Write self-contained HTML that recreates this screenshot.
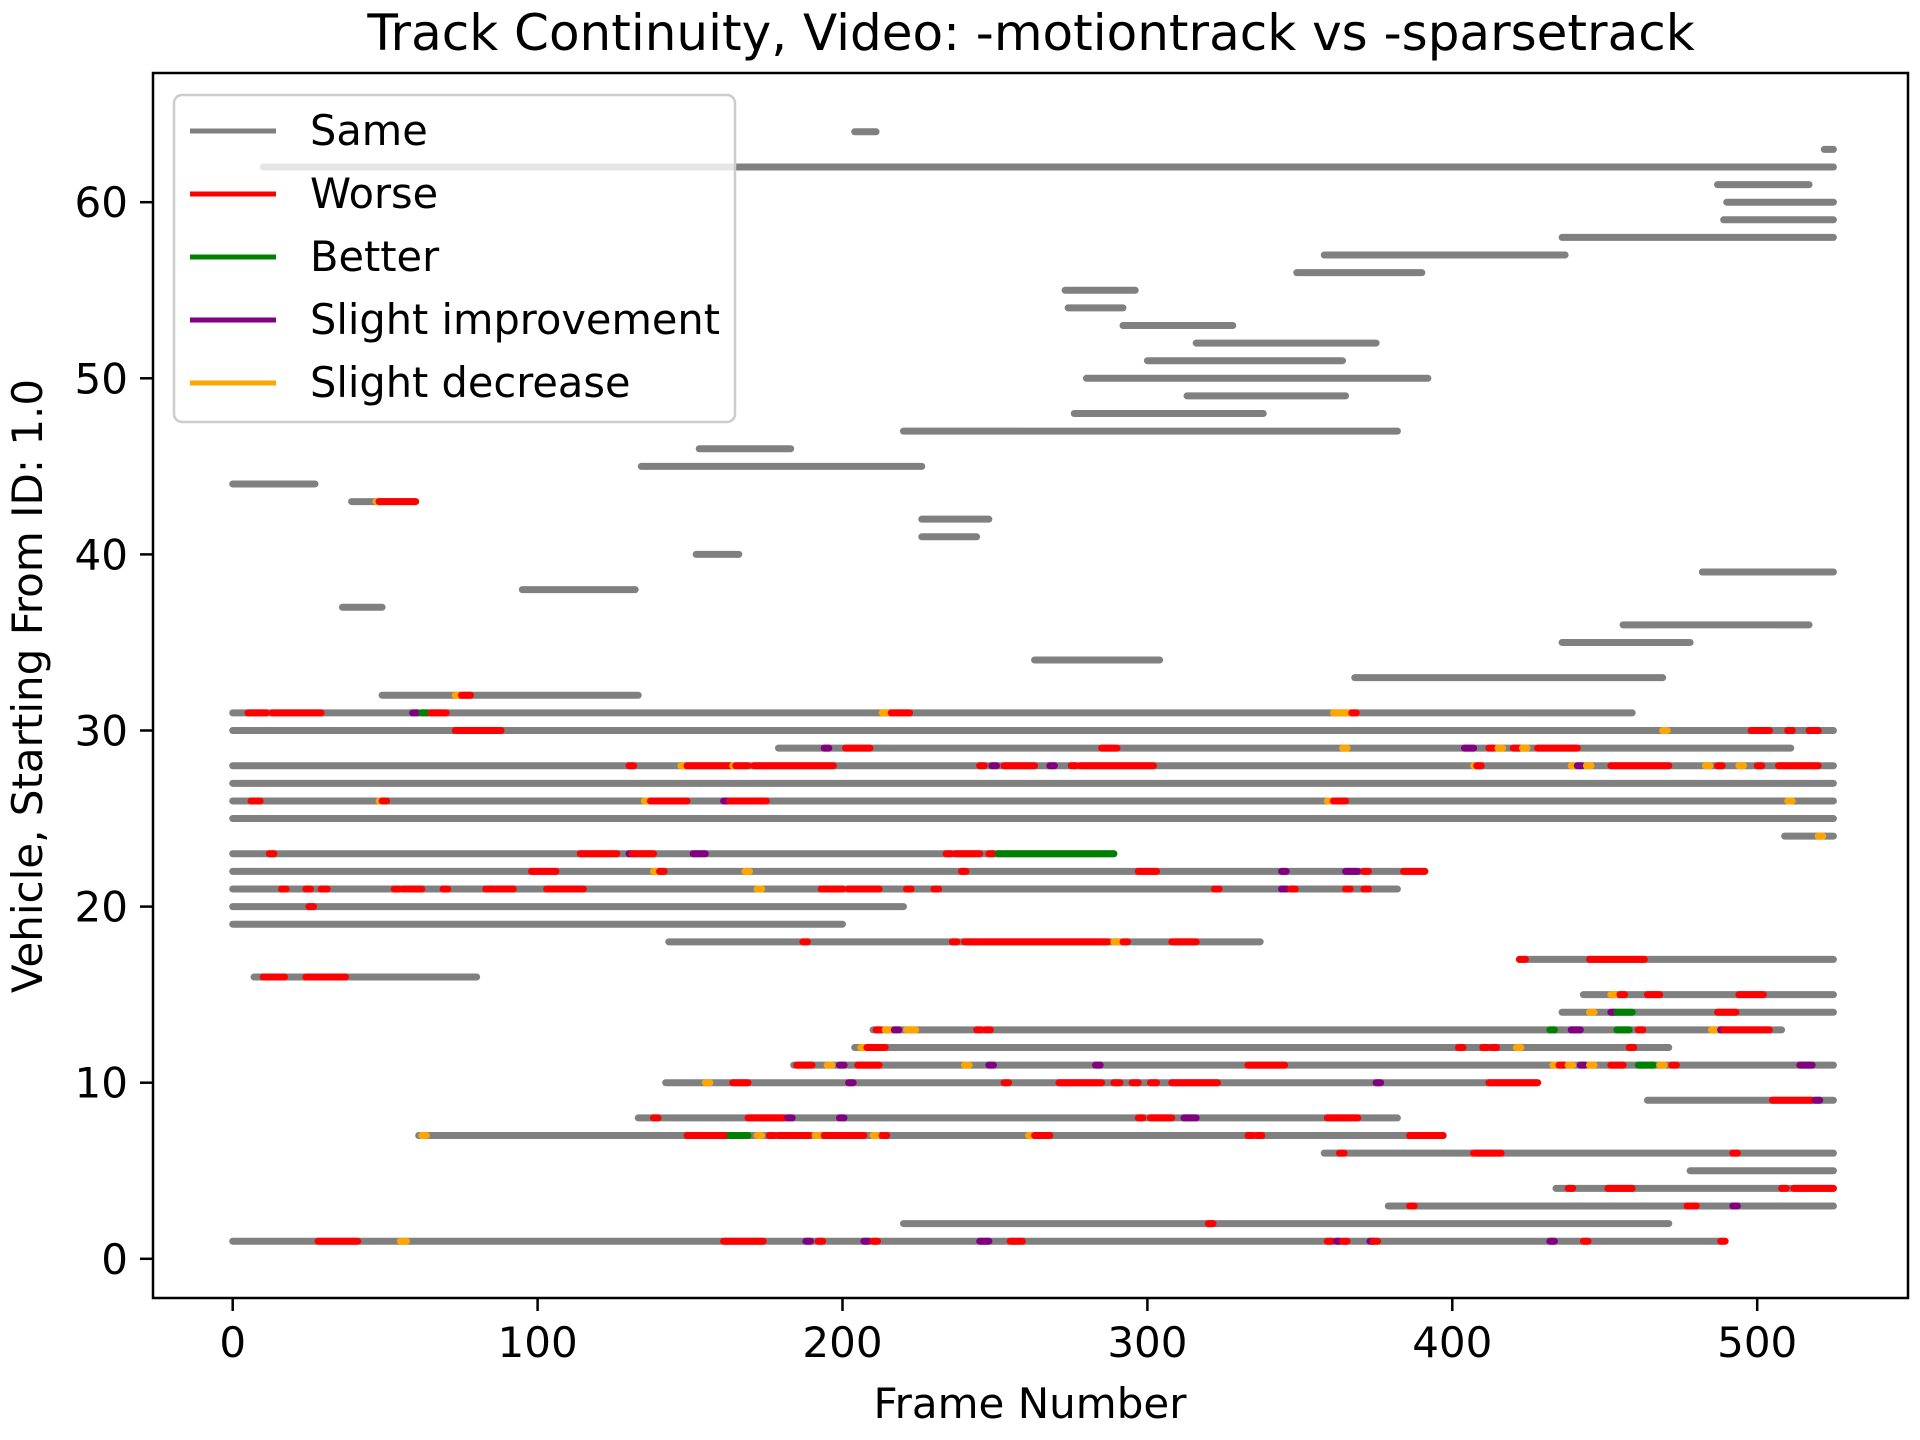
<!DOCTYPE html>
<html><head><meta charset="utf-8"><style>
body{margin:0;background:#fff}
svg{display:block;font-family:"DejaVu Sans","Liberation Sans",sans-serif}
</style></head><body>
<svg id="chart" width="1920" height="1440" viewBox="0 0 1920 1440" xmlns="http://www.w3.org/2000/svg">
<rect width="1920" height="1440" fill="#fff"/>
<text x="1031" y="50" font-size="50" text-anchor="middle">Track Continuity, Video: -motiontrack vs -sparsetrack</text>
<g id="marks"></g>
<rect x="153" y="73" width="1755" height="1225" fill="none" stroke="#000" stroke-width="2.5"/>
<g id="axes"></g>
<text x="1030" y="1418" font-size="42" text-anchor="middle">Frame Number</text>
<text transform="translate(42,686) rotate(-90)" font-size="42" text-anchor="middle">Vehicle, Starting From ID: 1.0</text>
<g>
<rect x="174" y="95" width="561" height="327" rx="8" fill="#fff" fill-opacity="0.8" stroke="#ccc" stroke-width="2.5"/>
<g id="legend-entries"></g>
</g>
</svg>
<script>
const COLORS = {s:'#808080', r:'#ff0000', g:'#008000', p:'#800080', o:'#ffa500'};
const legendLabels = ['Same','Worse','Better','Slight improvement','Slight decrease'];
const legendKeys = ['s','r','g','p','o'];
const xTicks = [0,100,200,300,400,500];
const yTicks = [0,10,20,30,40,50,60];
// tracks: [vehicleId, startFrame, endFrame]
const tracks = [
[63,522,525],[64,204,211],[62,10,525],[61,487,517],[60,490,525],[59,489,525],[58,436,525],[57,358,437],
[56,349,390],[55,273,296],[54,274,292],[53,292,328],[52,316,375],[51,300,364],[50,280,392],[49,313,365],
[48,276,338],[47,220,382],[46,153,183],[45,134,226],[44,0,27],[43,39,60],[42,226,248],[41,226,244],
[40,152,166],[39,482,525],[38,95,132],[37,36,49],[36,456,517],[35,436,478],[34,263,304],[33,368,469],
[32,49,133],[31,0,459],[30,0,525],[29,179,511],[28,0,525],[27,0,525],[26,0,525],[25,0,525],[24,509,525],
[23,0,289],[22,0,391],[21,0,382],[20,0,220],[19,0,200],[18,143,337],[17,422,525],[16,7,80],[15,443,525],
[14,436,525],[13,210,508],[12,204,471],[11,184,525],[10,142,428],[9,464,525],[8,133,382],[7,61,397],
[6,358,525],[5,478,525],[4,434,525],[3,379,525],[2,220,471],[1,0,489]
];
// changes: [vehicleId, startFrame, endFrame, type]
const changes = [
[43,47,48.5,'o'],[43,48,60,'r'],[32,73,74.5,'o'],[32,75,78,'r'],
[31,5,11,'r'],[31,13,29,'r'],[31,59,60.5,'p'],[31,62,64,'g'],[31,65,70,'r'],[31,213,214.5,'o'],[31,216,222,'r'],[31,361,367,'o'],[31,367,368.5,'r'],
[30,73,88,'r'],[30,469,470.5,'o'],[30,498,504,'r'],[30,510,511.5,'r'],[30,517,520,'r'],
[29,194,195.5,'p'],[29,201,209,'r'],[29,285,290,'r'],[29,364,365.5,'o'],[29,404,407,'p'],[29,412,413.5,'r'],[29,415,416.5,'o'],[29,420,422,'r'],[29,423,424.5,'o'],[29,428,441,'r'],
[28,130,131.5,'r'],[28,147,148.5,'o'],[28,149,163,'r'],[28,164,165,'o'],[28,165,169,'r'],[28,171,197,'r'],[28,245,246.5,'r'],[28,249,250.5,'p'],[28,253,263,'r'],[28,268,269.5,'p'],[28,275,276.5,'r'],[28,278,302,'r'],[28,407,408,'o'],[28,408,409.5,'r'],[28,439,440.5,'o'],[28,441,442.5,'p'],[28,444,445.5,'o'],[28,452,471,'r'],[28,483,484.5,'o'],[28,487,488.5,'r'],[28,494,495.5,'o'],[28,500,501.5,'r'],[28,507,520,'r'],
[26,6,9,'r'],[26,48,49,'o'],[26,49,50.5,'r'],[26,135,136.5,'o'],[26,137,149,'r'],[26,161,162.5,'p'],[26,163,175,'r'],[26,359,360.5,'o'],[26,361,365,'r'],[26,510,511.5,'o'],
[24,520,521.5,'o'],
[23,12,13.5,'r'],[23,114,126,'r'],[23,130,131,'p'],[23,131,138,'r'],[23,151,155,'p'],[23,234,235.5,'r'],[23,237,245,'r'],[23,248,249.5,'r'],[23,251,289,'g'],
[22,98,106,'r'],[22,138,139.5,'o'],[22,140,141.5,'r'],[22,168,169.5,'o'],[22,239,240.5,'r'],[22,297,298.5,'r'],[22,299,303,'r'],[22,344,345.5,'p'],[22,365,369,'p'],[22,371,372.5,'r'],[22,384,391,'r'],
[21,16,17.5,'r'],[21,24,25.5,'r'],[21,29,31,'r'],[21,53,54.5,'r'],[21,56,62,'r'],[21,69,70.5,'r'],[21,83,92,'r'],[21,103,115,'r'],[21,172,173.5,'o'],[21,193,200,'r'],[21,202,212,'r'],[21,221,222.5,'r'],[21,230,231.5,'r'],[21,322,323.5,'r'],[21,344,345.5,'p'],[21,347,348.5,'r'],[21,365,366.5,'r'],[21,371,372.5,'r'],
[20,25,26.5,'r'],
[18,187,188.5,'r'],[18,236,237.5,'r'],[18,240,287,'r'],[18,289,290.5,'o'],[18,292,293.5,'r'],[18,308,316,'r'],
[17,422,424,'r'],[17,445,463,'r'],
[16,10,17,'r'],[16,24,37,'r'],
[15,452,453.5,'o'],[15,455,456.5,'r'],[15,464,468,'r'],[15,494,502,'r'],
[14,445,446.5,'o'],[14,452,453.5,'p'],[14,454,459,'g'],[14,487,493,'r'],
[13,211,212.5,'r'],[13,214,215.5,'o'],[13,217,218.5,'p'],[13,221,224,'o'],[13,244,245.5,'r'],[13,247,248.5,'r'],[13,432,433.5,'g'],[13,439,442,'p'],[13,454,458,'g'],[13,461,462.5,'r'],[13,485,486.5,'o'],[13,488,489,'p'],[13,489,504,'r'],
[12,206,207.5,'o'],[12,208,214,'r'],[12,402,403.5,'r'],[12,410,411.5,'r'],[12,413,414.5,'r'],[12,421,422.5,'o'],[12,458,459.5,'r'],
[11,185,186.5,'r'],[11,187,190,'r'],[11,195,196.5,'o'],[11,199,200.5,'p'],[11,205,212,'r'],[11,240,241.5,'o'],[11,248,249.5,'p'],[11,283,284.5,'p'],[11,333,345,'r'],[11,433,434.5,'o'],[11,435,436.5,'r'],[11,438,439.5,'o'],[11,442,443.5,'p'],[11,445,446.5,'o'],[11,452,456,'r'],[11,461,466,'g'],[11,468,469.5,'o'],[11,472,473.5,'r'],[11,514,518,'p'],
[10,155,156.5,'o'],[10,164,169,'r'],[10,202,203.5,'p'],[10,253,254.5,'r'],[10,271,285,'r'],[10,289,291,'r'],[10,295,297,'r'],[10,301,303,'r'],[10,308,323,'r'],[10,375,376.5,'p'],[10,412,428,'r'],
[9,505,518,'r'],[9,519,520.5,'p'],
[8,138,139.5,'r'],[8,169,181,'r'],[8,182,183.5,'p'],[8,199,200.5,'p'],[8,297,298.5,'r'],[8,301,308,'r'],[8,312,316,'p'],[8,359,369,'r'],
[7,62,63.5,'o'],[7,149,163,'r'],[7,163,169,'g'],[7,172,173.5,'o'],[7,176,177.5,'r'],[7,179,189,'r'],[7,191,192.5,'o'],[7,194,207,'r'],[7,210,211.5,'o'],[7,213,214.5,'r'],[7,261,262.5,'o'],[7,263,268,'r'],[7,333,334.5,'r'],[7,336,337.5,'r'],[7,386,397,'r'],
[6,363,364.5,'r'],[6,407,416,'r'],[6,492,493.5,'r'],
[4,438,439.5,'r'],[4,451,459,'r'],[4,508,509.5,'r'],[4,512,525,'r'],
[3,386,387.5,'r'],[3,477,480,'r'],[3,492,493.5,'p'],
[2,320,321.5,'r'],
[1,28,41,'r'],[1,55,57,'o'],[1,161,174,'r'],[1,188,189.5,'p'],[1,192,193.5,'r'],[1,207,208.5,'p'],[1,210,211.5,'r'],[1,245,248,'p'],[1,255,259,'r'],[1,359,360.5,'r'],[1,362,363,'p'],[1,364,365.5,'r'],[1,373,374,'p'],[1,374,375.5,'r'],[1,432,433.5,'p'],[1,443,444.5,'r'],[1,488,489.5,'r']
];
const NS='http://www.w3.org/2000/svg';
const X = f => 232.7 + f*3.049;
const Y = v => 1258.8 - v*17.61;
const marks=document.getElementById('marks');
function seg(id,a,b,t,name){
  const l=document.createElementNS(NS,'line');
  l.setAttribute('x1',X(a));l.setAttribute('x2',X(b));
  l.setAttribute('y1',Y(id));l.setAttribute('y2',Y(id));
  l.setAttribute('stroke',COLORS[t]);l.setAttribute('stroke-width',7);
  l.setAttribute('stroke-linecap','round');
  
  
  marks.appendChild(l);
}
tracks.forEach(d=>seg(d[0],d[1],d[2],'s','track-vehicle-'+d[0]));
changes.forEach(d=>seg(d[0],d[1],d[2],d[3],'change-vehicle-'+d[0]));
const axes=document.getElementById('axes');
xTicks.forEach(v=>{
  const t=document.createElementNS(NS,'line');
  t.setAttribute('x1',X(v));t.setAttribute('x2',X(v));t.setAttribute('y1',1298);t.setAttribute('y2',1311);
  t.setAttribute('stroke','#000');t.setAttribute('stroke-width',2.5);
  
  
  axes.appendChild(t);
  const s=document.createElementNS(NS,'text');
  s.setAttribute('x',X(v));s.setAttribute('y',1357);s.setAttribute('font-size',42);s.setAttribute('text-anchor','middle');
  s.textContent=v;
  
  
  axes.appendChild(s);
});
yTicks.forEach(v=>{
  const t=document.createElementNS(NS,'line');
  t.setAttribute('x1',140);t.setAttribute('x2',153);t.setAttribute('y1',Y(v));t.setAttribute('y2',Y(v));
  t.setAttribute('stroke','#000');t.setAttribute('stroke-width',2.5);
  
  
  axes.appendChild(t);
  const s=document.createElementNS(NS,'text');
  s.setAttribute('x',128);s.setAttribute('y',Y(v)+15);s.setAttribute('font-size',42);s.setAttribute('text-anchor','end');
  s.textContent=v;
  
  
  axes.appendChild(s);
});
const lg=document.getElementById('legend-entries');
legendLabels.forEach((lab,i)=>{
  const y=131+i*63;
  const l=document.createElementNS(NS,'line');
  l.setAttribute('x1',190);l.setAttribute('x2',276);l.setAttribute('y1',y);l.setAttribute('y2',y);
  l.setAttribute('stroke',COLORS[legendKeys[i]]);l.setAttribute('stroke-width',5);
  
  
  lg.appendChild(l);
  const s=document.createElementNS(NS,'text');
  s.setAttribute('x',310);s.setAttribute('y',y+14);s.setAttribute('font-size',41.5);
  s.textContent=lab;
  
  
  lg.appendChild(s);
});
</script>
</body></html>
